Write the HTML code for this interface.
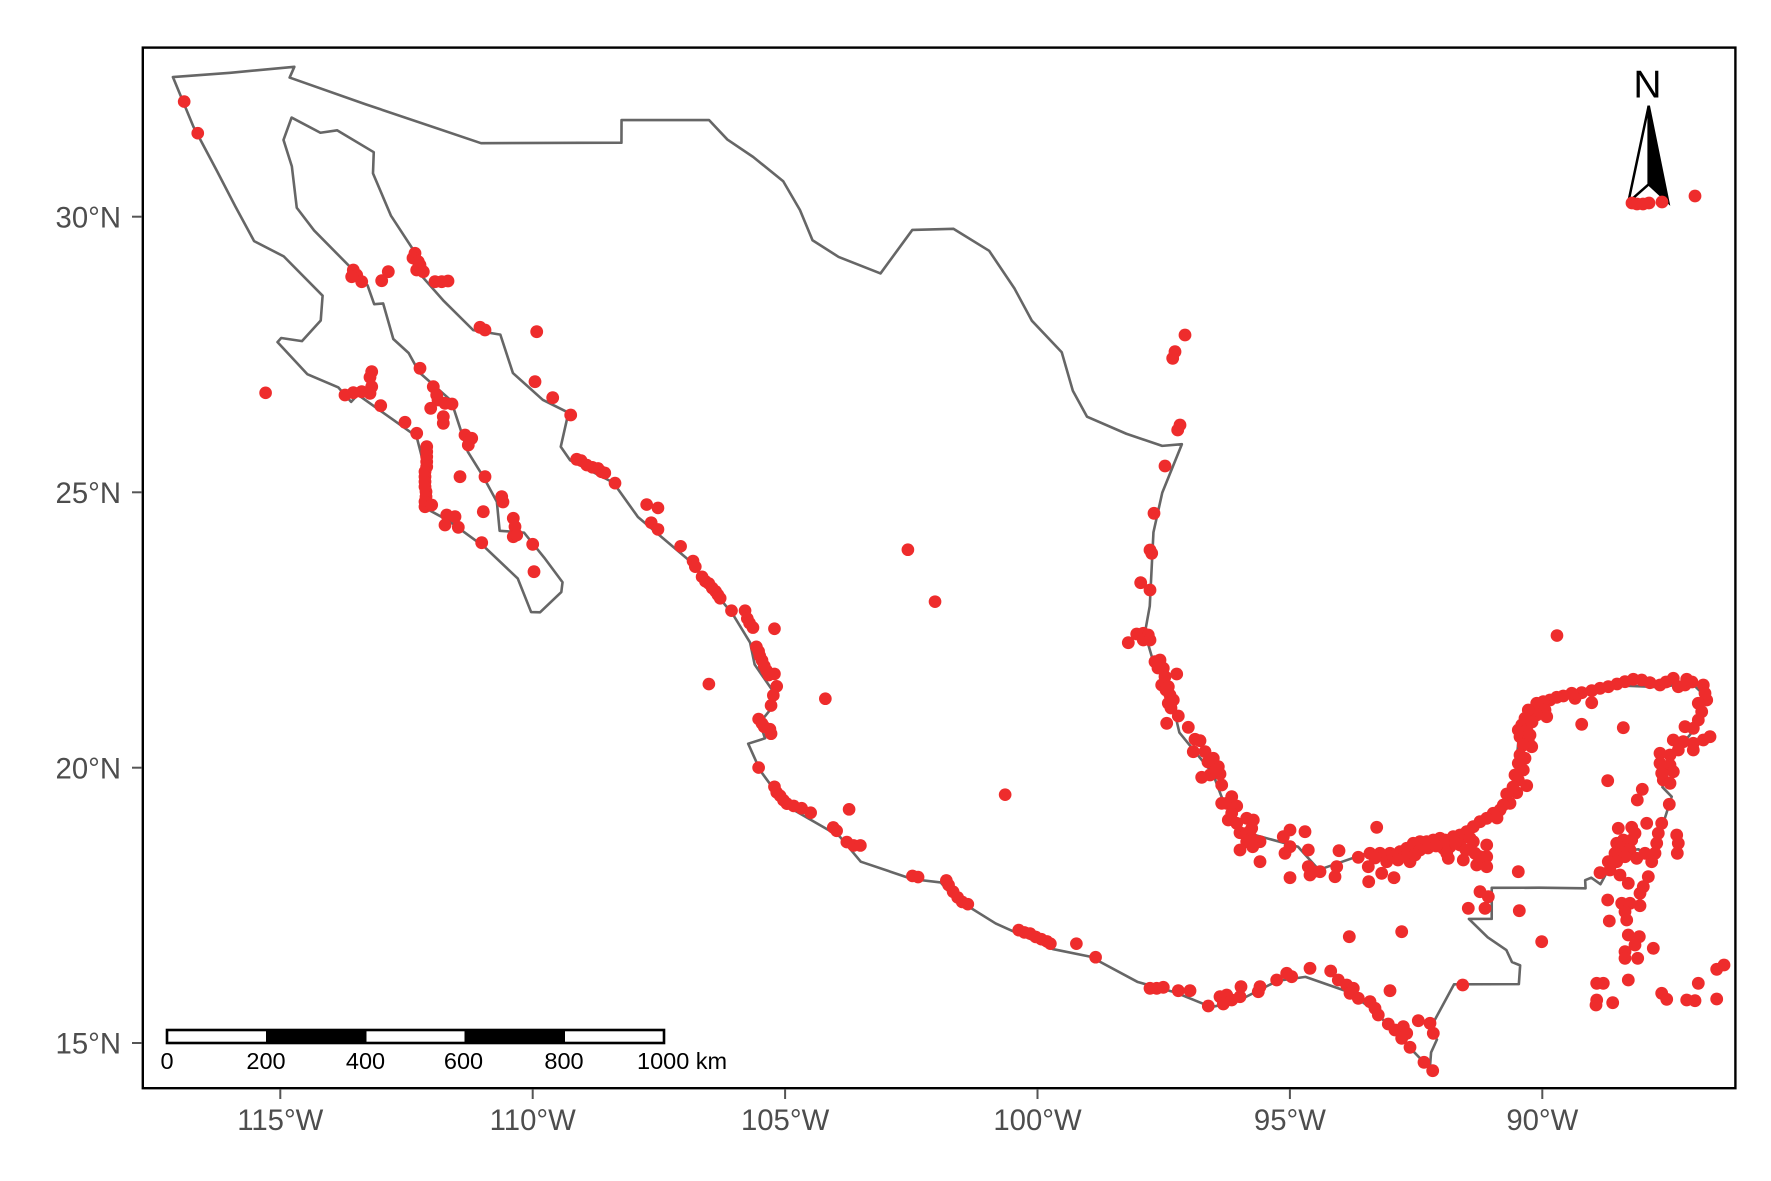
<!DOCTYPE html>
<html>
<head>
<meta charset="utf-8">
<style>
html,body{margin:0;padding:0;background:#fff;}
svg{display:block;}
text{font-family:"Liberation Sans",Arial,sans-serif;}
</style>
</head>
<body>
<svg width="1771" height="1181" viewBox="0 0 1771 1181" xmlns="http://www.w3.org/2000/svg">
<rect x="0" y="0" width="1771" height="1181" fill="#fff"/>

<!-- Mexico outline (lon,lat) -->
<g transform="matrix(50.48 0 0 -55.09 6085.5 1869.4)">
<polygon fill="none" stroke="#666666" stroke-width="2.6" stroke-linejoin="round" vector-effect="non-scaling-stroke" points="
-117.12776,32.53534 -115.99135,32.61239 -114.72139,32.72083 -114.815,32.52528 -113.30498,32.03914 -111.02361,31.33472 -109.035,31.34194 -108.24194,31.34222 -108.24,31.754854 -106.50759,31.75452 -106.1429,31.39995 -105.63159,31.08383 -105.03737,30.64402 -104.70575,30.12173 -104.45697,29.57196 -103.94,29.27 -103.11,28.97 -102.48,29.76 -101.6624,29.7793 -100.9576,29.38071 -100.45584,28.69612 -100.11,28.11 -99.52,27.54 -99.3,26.84 -99.02,26.37 -98.24,26.06 -97.53,25.84 -97.140008,25.869997 -97.528072,24.992144 -97.702946,24.272343 -97.776042,22.93258 -97.872367,22.444212 -97.699044,21.898689 -97.38896,21.411019 -97.189333,20.635433 -96.525576,19.890931 -96.292127,19.320371 -95.900885,18.828024 -94.839063,18.562717 -94.42573,18.144371 -93.548651,18.423837 -92.786114,18.524839 -92.037348,18.704569 -91.407903,18.876083 -90.77187,19.28412 -90.53359,19.867418 -90.451476,20.707522 -90.278618,20.999855 -89.601321,21.261726 -88.543866,21.493675 -87.658417,21.458846 -87.05189,21.543543 -86.811982,21.331515 -86.845908,20.849865 -87.383291,20.255405 -87.621054,19.646553 -87.43675,19.472403 -87.58656,19.04013 -87.837191,18.259816 -88.090664,18.516648 -88.300031,18.499982 -88.490123,18.486831 -88.848344,17.883198 -89.029857,18.001511 -89.150909,17.955468 -89.14308,17.808319 -90.067934,17.819326 -91.00152,17.817595 -91.002269,17.254658 -91.453921,17.252177 -91.08167,16.918477 -90.711822,16.687483 -90.600847,16.470778 -90.438867,16.41011 -90.464473,16.069562 -91.74796,16.066565 -92.229249,15.251447 -92.087216,15.064585 -92.20323,14.830103 -92.22775,14.538829 -93.359464,15.61543 -93.875169,15.940164 -94.691656,16.200975 -95.250227,16.128318 -96.053382,15.752088 -96.557434,15.653515 -97.263592,15.917065 -98.01303,16.107312 -98.947676,16.566043 -99.697397,16.706164 -100.829499,17.171071 -101.666089,17.649026 -101.918528,17.91609 -102.478132,17.975751 -103.50099,18.292295 -103.917527,18.748572 -104.99201,19.316134 -105.493038,19.946767 -105.731396,20.434102 -105.397773,20.531719 -105.500661,20.816895 -105.270752,21.076285 -105.265817,21.422104 -105.603161,21.871146 -105.693414,22.26908 -106.028716,22.773752 -106.90998,23.767774 -107.915449,24.548915 -108.401905,25.172314 -109.260199,25.580609 -109.444089,25.824884 -109.291644,26.442934 -109.801458,26.676176 -110.391732,27.162115 -110.641019,27.859876 -111.178919,27.941241 -111.759607,28.467953 -112.228235,28.954409 -112.271824,29.266844 -112.809594,30.021114 -113.163811,30.786881 -113.148669,31.170966 -113.871881,31.567608 -114.205737,31.524045 -114.776451,31.799532 -114.9367,31.393485 -114.771232,30.913617 -114.673899,30.162681 -114.330974,29.750432 -113.588875,29.061611 -113.424053,28.826174 -113.271969,28.754783 -113.140039,28.411289 -112.962298,28.42519 -112.761587,27.780217 -112.457911,27.525814 -112.244952,27.171727 -111.616489,26.662817 -111.284675,25.73259 -110.987819,25.294606 -110.710007,24.826004 -110.655049,24.298595 -110.172856,24.265548 -109.771847,23.811183 -109.409104,23.364672 -109.433392,23.185588 -109.854219,22.818272 -110.031392,22.823078 -110.295071,23.430973 -110.949501,24.000964 -111.670568,24.484423 -112.182036,24.738413 -112.148989,25.470125 -112.300711,26.012004 -112.777297,26.32196 -113.464671,26.768186 -113.59673,26.63946 -113.848937,26.900064 -114.465747,27.14209 -115.055142,27.722727 -114.982253,27.7982 -114.570366,27.741485 -114.199329,28.115003 -114.162018,28.566112 -114.93184,29.279479 -115.518654,29.556362 -115.887365,30.180794 -116.25835,30.836464 -116.721526,31.635744"/>
</g>

<!-- North arrow -->
<text x="1647.5" y="97.7" font-size="39" text-anchor="middle" fill="#000">N</text>
<polygon points="1648.7,105.7 1628.3,202.3 1648.7,184.3" fill="#fff" stroke="#000" stroke-width="2.5" stroke-linejoin="miter"/>
<polygon points="1648.7,105.7 1648.7,184.3 1668.3,202.3" fill="#000" stroke="#000" stroke-width="2.5" stroke-linejoin="miter"/>

<!-- Points (actual pixel coords) -->
<g fill="#EE2C2C">
<circle cx="1632" cy="203" r="6.4"/><circle cx="1637" cy="204" r="6.4"/><circle cx="1643" cy="204" r="6.4"/><circle cx="1649" cy="203" r="6.4"/><circle cx="1662" cy="202" r="6.4"/><circle cx="1695" cy="196" r="6.4"/>
<!-- Yucatan -->
<circle cx="1625" cy="681.7" r="6.4"/><circle cx="1633.3" cy="679.3" r="6.4"/><circle cx="1641.7" cy="680" r="6.4"/><circle cx="1650" cy="682.7" r="6.4"/><circle cx="1660" cy="685" r="6.4"/><circle cx="1673.3" cy="678.3" r="6.4"/><circle cx="1678.3" cy="686.7" r="6.4"/><circle cx="1686.7" cy="679.3" r="6.4"/><circle cx="1685" cy="685" r="6.4"/><circle cx="1617" cy="684" r="6.4"/><circle cx="1666" cy="682" r="6.4"/><circle cx="1692" cy="682" r="6.4"/>
<circle cx="1608.3" cy="686.7" r="6.4"/><circle cx="1600" cy="688.3" r="6.4"/><circle cx="1591.7" cy="690.7" r="6.4"/><circle cx="1591.7" cy="702.7" r="6.4"/><circle cx="1581.7" cy="692.7" r="6.4"/><circle cx="1575" cy="698.3" r="6.4"/><circle cx="1571.7" cy="693.3" r="6.4"/><circle cx="1563.3" cy="696" r="6.4"/><circle cx="1556.7" cy="697.3" r="6.4"/><circle cx="1550" cy="700" r="6.4"/><circle cx="1543.3" cy="701.7" r="6.4"/><circle cx="1536.7" cy="703.3" r="6.4"/><circle cx="1545" cy="710" r="6.4"/><circle cx="1546.7" cy="716.7" r="6.4"/><circle cx="1536.7" cy="715" r="6.4"/><circle cx="1528.3" cy="710" r="6.4"/><circle cx="1525" cy="718.3" r="6.4"/><circle cx="1521.7" cy="725" r="6.4"/><circle cx="1518.3" cy="730" r="6.4"/><circle cx="1526.7" cy="730" r="6.4"/><circle cx="1520" cy="736.7" r="6.4"/><circle cx="1528.3" cy="740" r="6.4"/><circle cx="1531.7" cy="746.7" r="6.4"/><circle cx="1523.3" cy="745" r="6.4"/><circle cx="1520" cy="755" r="6.4"/><circle cx="1525" cy="758.3" r="6.4"/><circle cx="1518.3" cy="763.3" r="6.4"/><circle cx="1523.3" cy="770" r="6.4"/><circle cx="1515" cy="775" r="6.4"/><circle cx="1518.3" cy="780" r="6.4"/><circle cx="1526.7" cy="785.7" r="6.4"/><circle cx="1516.7" cy="792.7" r="6.4"/><circle cx="1506.7" cy="794" r="6.4"/><circle cx="1510" cy="803.3" r="6.4"/><circle cx="1503.3" cy="805" r="6.4"/><circle cx="1500" cy="810" r="6.4"/><circle cx="1493.3" cy="813.3" r="6.4"/><circle cx="1486.7" cy="818.3" r="6.4"/><circle cx="1480" cy="821.7" r="6.4"/><circle cx="1473.3" cy="826.7" r="6.4"/><circle cx="1466.7" cy="831.7" r="6.4"/><circle cx="1460" cy="835" r="6.4"/><circle cx="1453.3" cy="836.7" r="6.4"/><circle cx="1445" cy="840" r="6.4"/><circle cx="1443.3" cy="848.3" r="6.4"/><circle cx="1450" cy="846.7" r="6.4"/><circle cx="1448.3" cy="858.3" r="6.4"/><circle cx="1460" cy="845" r="6.4"/><circle cx="1463.3" cy="860" r="6.4"/><circle cx="1473.3" cy="841.7" r="6.4"/><circle cx="1475" cy="853.3" r="6.4"/><circle cx="1476.7" cy="865" r="6.4"/><circle cx="1486.7" cy="845" r="6.4"/><circle cx="1486.7" cy="856.7" r="6.4"/><circle cx="1486.7" cy="866.7" r="6.4"/><circle cx="1480" cy="856.7" r="6.4"/><circle cx="1518.3" cy="871.7" r="6.4"/>
<circle cx="1532" cy="722" r="6.4"/><circle cx="1530" cy="735" r="6.4"/><circle cx="1513" cy="787" r="6.4"/><circle cx="1497" cy="818" r="6.4"/><circle cx="1470" cy="838" r="6.4"/><circle cx="1455" cy="843" r="6.4"/><circle cx="1466" cy="850" r="6.4"/>
<circle cx="1581.7" cy="724.3" r="6.4"/><circle cx="1623.3" cy="727.7" r="6.4"/><circle cx="1607.7" cy="780.7" r="6.4"/><circle cx="1642.3" cy="789.3" r="6.4"/><circle cx="1637.3" cy="800" r="6.4"/><circle cx="1669.3" cy="804.3" r="6.4"/>
<circle cx="1703.3" cy="685" r="6.4"/><circle cx="1705" cy="693.3" r="6.4"/><circle cx="1706.7" cy="700" r="6.4"/><circle cx="1698.3" cy="703.3" r="6.4"/><circle cx="1701.7" cy="711.7" r="6.4"/><circle cx="1698.3" cy="720" r="6.4"/><circle cx="1685" cy="726.7" r="6.4"/><circle cx="1693.3" cy="728.3" r="6.4"/><circle cx="1710" cy="736.7" r="6.4"/><circle cx="1703.3" cy="740" r="6.4"/><circle cx="1693.3" cy="743.3" r="6.4"/><circle cx="1693.3" cy="750" r="6.4"/><circle cx="1683.3" cy="741.7" r="6.4"/><circle cx="1673.3" cy="740" r="6.4"/><circle cx="1678.3" cy="750" r="6.4"/><circle cx="1670" cy="755" r="6.4"/><circle cx="1660" cy="753.3" r="6.4"/><circle cx="1660" cy="763.3" r="6.4"/><circle cx="1670" cy="765" r="6.4"/><circle cx="1673.3" cy="771.7" r="6.4"/><circle cx="1661.7" cy="773.3" r="6.4"/><circle cx="1663.3" cy="780" r="6.4"/><circle cx="1670" cy="783.3" r="6.4"/>
<circle cx="1618.3" cy="828.3" r="6.4"/><circle cx="1631.7" cy="827.3" r="6.4"/><circle cx="1646.7" cy="823.3" r="6.4"/><circle cx="1661.7" cy="823.3" r="6.4"/><circle cx="1658.3" cy="833.3" r="6.4"/><circle cx="1656.7" cy="843.3" r="6.4"/><circle cx="1655" cy="853.3" r="6.4"/><circle cx="1651.7" cy="861.7" r="6.4"/><circle cx="1635" cy="833.3" r="6.4"/><circle cx="1631.7" cy="840" r="6.4"/><circle cx="1623.3" cy="840" r="6.4"/><circle cx="1616.7" cy="843.3" r="6.4"/><circle cx="1621.7" cy="848.3" r="6.4"/><circle cx="1630" cy="850" r="6.4"/><circle cx="1615" cy="853.3" r="6.4"/><circle cx="1625" cy="856.7" r="6.4"/><circle cx="1636.7" cy="858.3" r="6.4"/><circle cx="1645" cy="853.3" r="6.4"/><circle cx="1608.3" cy="861.7" r="6.4"/><circle cx="1616.7" cy="861.7" r="6.4"/><circle cx="1610" cy="870" r="6.4"/><circle cx="1600" cy="872.7" r="6.4"/><circle cx="1620" cy="875" r="6.4"/><circle cx="1628.3" cy="883.3" r="6.4"/><circle cx="1648.3" cy="876.7" r="6.4"/><circle cx="1643.3" cy="886.7" r="6.4"/><circle cx="1640" cy="893.3" r="6.4"/><circle cx="1676.7" cy="835" r="6.4"/><circle cx="1678.3" cy="843.3" r="6.4"/><circle cx="1677.3" cy="853.3" r="6.4"/><circle cx="1607.7" cy="900" r="6.4"/><circle cx="1621.7" cy="903.3" r="6.4"/><circle cx="1630" cy="903.3" r="6.4"/><circle cx="1640" cy="905.7" r="6.4"/><circle cx="1625" cy="911.7" r="6.4"/><circle cx="1626.7" cy="920" r="6.4"/><circle cx="1609.3" cy="921" r="6.4"/><circle cx="1628.3" cy="935" r="6.4"/><circle cx="1639.3" cy="936.7" r="6.4"/><circle cx="1635" cy="945" r="6.4"/><circle cx="1625" cy="951.7" r="6.4"/><circle cx="1625" cy="958.3" r="6.4"/><circle cx="1637.7" cy="958.3" r="6.4"/><circle cx="1653.3" cy="948.3" r="6.4"/><circle cx="1541.7" cy="941.7" r="6.4"/><circle cx="1519.3" cy="910.7" r="6.4"/><circle cx="1480" cy="891.7" r="6.4"/><circle cx="1488.3" cy="896.7" r="6.4"/><circle cx="1485" cy="908.3" r="6.4"/><circle cx="1468.3" cy="908.3" r="6.4"/><circle cx="1462.7" cy="985" r="6.4"/>
<circle cx="1596.7" cy="983.3" r="6.4"/><circle cx="1603.3" cy="983.3" r="6.4"/><circle cx="1628.3" cy="980" r="6.4"/><circle cx="1596.7" cy="1000" r="6.4"/><circle cx="1596" cy="1005" r="6.4"/><circle cx="1612.7" cy="1002.7" r="6.4"/><circle cx="1661.7" cy="993.3" r="6.4"/><circle cx="1666.7" cy="999.3" r="6.4"/><circle cx="1686.7" cy="1000" r="6.4"/><circle cx="1695" cy="1000.7" r="6.4"/><circle cx="1698.3" cy="983.3" r="6.4"/><circle cx="1716.7" cy="999" r="6.4"/><circle cx="1716.7" cy="969.3" r="6.4"/><circle cx="1724" cy="965" r="6.4"/>
<!-- Baja / Gulf of California -->
<circle cx="353.3" cy="270" r="6.4"/><circle cx="356.7" cy="275" r="6.4"/><circle cx="361.7" cy="281.7" r="6.4"/><circle cx="351.7" cy="276.7" r="6.4"/><circle cx="388.3" cy="271.7" r="6.4"/><circle cx="381.7" cy="280.7" r="6.4"/><circle cx="415" cy="253.3" r="6.4"/><circle cx="413" cy="258" r="6.4"/><circle cx="418.3" cy="261.7" r="6.4"/><circle cx="420" cy="265" r="6.4"/><circle cx="416.7" cy="270" r="6.4"/><circle cx="423.3" cy="271.7" r="6.4"/><circle cx="435" cy="281.7" r="6.4"/><circle cx="441.7" cy="281.7" r="6.4"/><circle cx="448" cy="281" r="6.4"/><circle cx="480" cy="327.3" r="6.4"/><circle cx="485" cy="330" r="6.4"/><circle cx="536.7" cy="331.7" r="6.4"/><circle cx="535" cy="381.7" r="6.4"/><circle cx="552.7" cy="397.7" r="6.4"/><circle cx="570.7" cy="415" r="6.4"/><circle cx="576.7" cy="459.3" r="6.4"/><circle cx="420" cy="368.3" r="6.4"/><circle cx="371.7" cy="371.7" r="6.4"/><circle cx="370" cy="377.3" r="6.4"/><circle cx="371.7" cy="386.7" r="6.4"/><circle cx="370" cy="393.3" r="6.4"/><circle cx="361.7" cy="391.7" r="6.4"/><circle cx="353.3" cy="392.7" r="6.4"/><circle cx="345" cy="395" r="6.4"/><circle cx="380.7" cy="405.7" r="6.4"/><circle cx="433.3" cy="386.7" r="6.4"/><circle cx="436.7" cy="395" r="6.4"/><circle cx="438" cy="400" r="6.4"/><circle cx="445" cy="403.3" r="6.4"/><circle cx="452" cy="404" r="6.4"/><circle cx="430.7" cy="408.3" r="6.4"/><circle cx="443.3" cy="416.7" r="6.4"/><circle cx="443.3" cy="423.3" r="6.4"/><circle cx="405" cy="422.3" r="6.4"/><circle cx="416.7" cy="433.3" r="6.4"/><circle cx="465" cy="435" r="6.4"/><circle cx="471.7" cy="438.3" r="6.4"/><circle cx="468.3" cy="445" r="6.4"/><circle cx="426.7" cy="446.7" r="6.4"/><circle cx="426.7" cy="451.7" r="6.4"/><circle cx="426.7" cy="456.7" r="6.4"/><circle cx="426.7" cy="461.7" r="6.4"/><circle cx="426.7" cy="466.7" r="6.4"/><circle cx="425" cy="471.7" r="6.4"/><circle cx="425" cy="476.7" r="6.4"/><circle cx="425" cy="481.7" r="6.4"/><circle cx="425" cy="486.7" r="6.4"/><circle cx="426" cy="491.7" r="6.4"/><circle cx="426" cy="496.7" r="6.4"/><circle cx="425" cy="501.7" r="6.4"/><circle cx="425" cy="506.7" r="6.4"/><circle cx="431.7" cy="505" r="6.4"/><circle cx="460" cy="476.7" r="6.4"/><circle cx="485" cy="476.7" r="6.4"/><circle cx="501.7" cy="496.7" r="6.4"/><circle cx="503" cy="502" r="6.4"/><circle cx="483.3" cy="511.7" r="6.4"/><circle cx="446.7" cy="515" r="6.4"/><circle cx="455" cy="516.7" r="6.4"/><circle cx="445" cy="525" r="6.4"/><circle cx="458.3" cy="527.3" r="6.4"/><circle cx="481.7" cy="542.7" r="6.4"/><circle cx="513.3" cy="518.3" r="6.4"/><circle cx="515" cy="526.7" r="6.4"/><circle cx="513.3" cy="536.7" r="6.4"/><circle cx="516.7" cy="535" r="6.4"/><circle cx="532.7" cy="544.3" r="6.4"/><circle cx="534" cy="571.7" r="6.4"/>
<!-- Gulf coast Tamaulipas / Veracruz -->
<circle cx="1185" cy="335" r="6.4"/><circle cx="1175" cy="351.7" r="6.4"/><circle cx="1172.7" cy="358.3" r="6.4"/><circle cx="1180" cy="425" r="6.4"/><circle cx="1177.7" cy="430" r="6.4"/><circle cx="1165" cy="466" r="6.4"/><circle cx="1154" cy="513.3" r="6.4"/><circle cx="1150" cy="550" r="6.4"/><circle cx="1151.7" cy="553.3" r="6.4"/><circle cx="1140.7" cy="582.7" r="6.4"/><circle cx="1150" cy="590" r="6.4"/><circle cx="1128.3" cy="642.7" r="6.4"/><circle cx="1136.7" cy="634" r="6.4"/><circle cx="1143.3" cy="633.3" r="6.4"/><circle cx="1148.3" cy="635" r="6.4"/><circle cx="1143.3" cy="640" r="6.4"/><circle cx="1150" cy="640" r="6.4"/><circle cx="1155" cy="661.7" r="6.4"/><circle cx="1160" cy="660" r="6.4"/><circle cx="1163.3" cy="668.3" r="6.4"/><circle cx="1176.7" cy="674" r="6.4"/><circle cx="1165" cy="676.7" r="6.4"/><circle cx="1161.7" cy="685" r="6.4"/><circle cx="1168.3" cy="686.7" r="6.4"/><circle cx="1170" cy="695" r="6.4"/><circle cx="1168.3" cy="703.3" r="6.4"/><circle cx="1173.3" cy="700" r="6.4"/><circle cx="1166.7" cy="723.3" r="6.4"/><circle cx="1178.3" cy="716" r="6.4"/><circle cx="1188.3" cy="727.3" r="6.4"/><circle cx="1195" cy="739.3" r="6.4"/><circle cx="1200" cy="740.7" r="6.4"/><circle cx="1193.3" cy="751.7" r="6.4"/><circle cx="1205" cy="751.7" r="6.4"/><circle cx="1213.3" cy="758.3" r="6.4"/><circle cx="1218.3" cy="766.7" r="6.4"/><circle cx="1220" cy="774" r="6.4"/><circle cx="1210" cy="775" r="6.4"/><circle cx="1201.7" cy="777.3" r="6.4"/><circle cx="1221.7" cy="785" r="6.4"/><circle cx="1231.7" cy="796.7" r="6.4"/><circle cx="1226.7" cy="803.3" r="6.4"/><circle cx="1236.7" cy="806" r="6.4"/><circle cx="1246.7" cy="818.3" r="6.4"/><circle cx="1253.3" cy="820" r="6.4"/><circle cx="1251.7" cy="828.3" r="6.4"/><circle cx="1240" cy="832.7" r="6.4"/><circle cx="1290" cy="830" r="6.4"/><circle cx="1283.3" cy="836.7" r="6.4"/><circle cx="1260" cy="841.7" r="6.4"/><circle cx="1305" cy="831.7" r="6.4"/>
<circle cx="1158" cy="668" r="6.4"/><circle cx="1166" cy="690" r="6.4"/><circle cx="1171" cy="708" r="6.4"/><circle cx="1208" cy="762" r="6.4"/><circle cx="1216" cy="770" r="6.4"/>
<!-- Tabasco / Campeche + Oaxaca / Chiapas -->
<circle cx="1221.7" cy="803.3" r="6.4"/><circle cx="1231.7" cy="813.3" r="6.4"/><circle cx="1228.3" cy="820" r="6.4"/><circle cx="1236.7" cy="823.3" r="6.4"/><circle cx="1246.7" cy="833.3" r="6.4"/><circle cx="1251.7" cy="838.3" r="6.4"/><circle cx="1246.7" cy="841.7" r="6.4"/><circle cx="1240" cy="850" r="6.4"/><circle cx="1252.7" cy="846.7" r="6.4"/><circle cx="1260" cy="861.7" r="6.4"/><circle cx="1290" cy="846.7" r="6.4"/><circle cx="1285" cy="853.3" r="6.4"/><circle cx="1308.3" cy="850" r="6.4"/><circle cx="1290" cy="877.7" r="6.4"/><circle cx="1376.7" cy="827.3" r="6.4"/><circle cx="1339" cy="850.7" r="6.4"/><circle cx="1308.3" cy="866.7" r="6.4"/><circle cx="1313.3" cy="871.7" r="6.4"/><circle cx="1320" cy="871.7" r="6.4"/><circle cx="1310" cy="875" r="6.4"/><circle cx="1336.7" cy="866.7" r="6.4"/><circle cx="1335" cy="876.7" r="6.4"/><circle cx="1358.3" cy="857.3" r="6.4"/><circle cx="1370" cy="853.3" r="6.4"/><circle cx="1380" cy="853.3" r="6.4"/><circle cx="1390" cy="853.3" r="6.4"/><circle cx="1368.3" cy="866.7" r="6.4"/><circle cx="1386.7" cy="861.7" r="6.4"/><circle cx="1381.7" cy="873.3" r="6.4"/><circle cx="1394" cy="877.7" r="6.4"/><circle cx="1368.7" cy="881.7" r="6.4"/><circle cx="1400" cy="851.7" r="6.4"/><circle cx="1406.7" cy="848.3" r="6.4"/><circle cx="1410" cy="861.7" r="6.4"/><circle cx="1413.3" cy="843.3" r="6.4"/><circle cx="1420" cy="841.7" r="6.4"/><circle cx="1426.7" cy="841.7" r="6.4"/><circle cx="1433.3" cy="840" r="6.4"/><circle cx="1440" cy="838.3" r="6.4"/><circle cx="1443.3" cy="843.3" r="6.4"/><circle cx="1446.7" cy="853.3" r="6.4"/><circle cx="1406.7" cy="855" r="6.4"/><circle cx="1420" cy="850" r="6.4"/><circle cx="1393.3" cy="856.7" r="6.4"/>
<circle cx="1375" cy="858" r="6.4"/><circle cx="1398" cy="860" r="6.4"/><circle cx="1428" cy="848" r="6.4"/><circle cx="1436" cy="846" r="6.4"/><circle cx="1415" cy="855" r="6.4"/>
<circle cx="1349.3" cy="936.7" r="6.4"/><circle cx="1401.7" cy="931.7" r="6.4"/>
<circle cx="1150" cy="988.3" r="6.4"/><circle cx="1156.7" cy="988.3" r="6.4"/><circle cx="1163.3" cy="987.3" r="6.4"/><circle cx="1178.3" cy="990.7" r="6.4"/><circle cx="1190" cy="990.7" r="6.4"/><circle cx="1208.3" cy="1006" r="6.4"/><circle cx="1220" cy="996.7" r="6.4"/><circle cx="1226.7" cy="995" r="6.4"/><circle cx="1223.3" cy="1004" r="6.4"/><circle cx="1231.7" cy="1000" r="6.4"/><circle cx="1240" cy="996.7" r="6.4"/><circle cx="1241" cy="986.7" r="6.4"/><circle cx="1260" cy="986.7" r="6.4"/><circle cx="1258.3" cy="991.7" r="6.4"/><circle cx="1276.7" cy="980" r="6.4"/><circle cx="1286.7" cy="973.3" r="6.4"/><circle cx="1291.7" cy="976.7" r="6.4"/><circle cx="1310" cy="968.3" r="6.4"/><circle cx="1330.7" cy="971" r="6.4"/><circle cx="1338.3" cy="980" r="6.4"/><circle cx="1346.7" cy="985" r="6.4"/><circle cx="1353.3" cy="988.3" r="6.4"/><circle cx="1350" cy="993.3" r="6.4"/><circle cx="1358.3" cy="998.3" r="6.4"/><circle cx="1370" cy="1001.7" r="6.4"/><circle cx="1375" cy="1008.3" r="6.4"/><circle cx="1378.3" cy="1015" r="6.4"/><circle cx="1390" cy="990.7" r="6.4"/><circle cx="1388.3" cy="1024" r="6.4"/><circle cx="1395" cy="1030" r="6.4"/><circle cx="1403.3" cy="1026.7" r="6.4"/><circle cx="1406.7" cy="1033.3" r="6.4"/><circle cx="1401.7" cy="1038.3" r="6.4"/><circle cx="1410" cy="1047.3" r="6.4"/><circle cx="1418.3" cy="1020.7" r="6.4"/><circle cx="1430" cy="1023.3" r="6.4"/><circle cx="1433.3" cy="1033.3" r="6.4"/><circle cx="1424" cy="1062.3" r="6.4"/><circle cx="1432.7" cy="1070.7" r="6.4"/>
</g>

<!-- Points (estimated from overview, scaled) -->
<g fill="#EE2C2C" transform="matrix(1.1308 0 0 1.1288 -1.27 0)">
<circle cx="164" cy="90" r="5.6"/><circle cx="176" cy="118" r="5.6"/><circle cx="236" cy="348" r="5.6"/>
<circle cx="515" cy="408" r="5.6"/><circle cx="520" cy="412" r="5.6"/><circle cx="525" cy="414" r="5.6"/><circle cx="530" cy="415" r="5.6"/><circle cx="533" cy="418" r="5.6"/><circle cx="536" cy="419" r="5.6"/><circle cx="545" cy="428" r="5.6"/>
<circle cx="573" cy="447" r="5.6"/><circle cx="583" cy="450" r="5.6"/><circle cx="577" cy="463" r="5.6"/><circle cx="583" cy="469" r="5.6"/>
<circle cx="603" cy="484" r="5.6"/><circle cx="614" cy="497" r="5.6"/><circle cx="616" cy="502" r="5.6"/>
<circle cx="622" cy="511" r="5.6"/><circle cx="625" cy="515" r="5.6"/><circle cx="628" cy="517" r="5.6"/><circle cx="631" cy="521" r="5.6"/><circle cx="634" cy="524" r="5.6"/><circle cx="636" cy="527" r="5.6"/><circle cx="638" cy="530" r="5.6"/>
<circle cx="648" cy="541" r="5.6"/><circle cx="660" cy="541" r="5.6"/><circle cx="662" cy="548" r="5.6"/><circle cx="664" cy="552" r="5.6"/><circle cx="667" cy="556" r="5.6"/><circle cx="686" cy="557" r="5.6"/>
<circle cx="670" cy="573" r="5.6"/><circle cx="672" cy="577" r="5.6"/><circle cx="673" cy="581" r="5.6"/><circle cx="675" cy="585" r="5.6"/><circle cx="677" cy="590" r="5.6"/><circle cx="679" cy="594" r="5.6"/><circle cx="681" cy="598" r="5.6"/><circle cx="686" cy="597" r="5.6"/><circle cx="688" cy="608" r="5.6"/><circle cx="685" cy="616" r="5.6"/><circle cx="683" cy="625" r="5.6"/>
<circle cx="628" cy="606" r="5.6"/><circle cx="731" cy="619" r="5.6"/>
<circle cx="672" cy="637" r="5.6"/><circle cx="675" cy="641" r="5.6"/><circle cx="677" cy="644" r="5.6"/><circle cx="682" cy="646" r="5.6"/><circle cx="683" cy="650" r="5.6"/>
<circle cx="672" cy="680" r="5.6"/>
<circle cx="686" cy="697" r="5.6"/><circle cx="688" cy="702" r="5.6"/><circle cx="691" cy="705" r="5.6"/><circle cx="694" cy="709" r="5.6"/><circle cx="697" cy="712" r="5.6"/><circle cx="703" cy="714" r="5.6"/><circle cx="710" cy="716" r="5.6"/><circle cx="718" cy="720" r="5.6"/>
<circle cx="752" cy="717" r="5.6"/>
<circle cx="738" cy="733" r="5.6"/><circle cx="741" cy="736" r="5.6"/><circle cx="750" cy="746" r="5.6"/><circle cx="756" cy="749" r="5.6"/><circle cx="762" cy="749" r="5.6"/>
<circle cx="808" cy="776" r="5.6"/><circle cx="813" cy="777" r="5.6"/>
<circle cx="838" cy="780" r="5.6"/><circle cx="840" cy="784" r="5.6"/><circle cx="844" cy="790" r="5.6"/><circle cx="848" cy="795" r="5.6"/><circle cx="852" cy="799" r="5.6"/><circle cx="857" cy="801" r="5.6"/>
<circle cx="902" cy="824" r="5.6"/><circle cx="907" cy="826" r="5.6"/><circle cx="912" cy="827" r="5.6"/><circle cx="917" cy="830" r="5.6"/><circle cx="922" cy="832" r="5.6"/><circle cx="927" cy="834" r="5.6"/><circle cx="930" cy="836" r="5.6"/>
<circle cx="953" cy="836" r="5.6"/><circle cx="970" cy="848" r="5.6"/>
<circle cx="804" cy="487" r="5.6"/><circle cx="828" cy="533" r="5.6"/><circle cx="890" cy="704" r="5.6"/><circle cx="1378" cy="563" r="5.6"/>
</g>

<!-- Scale bar -->
<rect x="167" y="1030" width="497" height="13" fill="#fff" stroke="#000" stroke-width="2.6"/>
<rect x="266" y="1030" width="100.5" height="13" fill="#000"/>
<rect x="464.5" y="1030" width="100.5" height="13" fill="#000"/>
<g font-size="23.5" fill="#000" text-anchor="middle">
<text x="167" y="1069">0</text>
<text x="266" y="1069">200</text>
<text x="365.5" y="1069">400</text>
<text x="463.5" y="1069">600</text>
<text x="564" y="1069">800</text>
<text x="637" y="1069" text-anchor="start">1000 km</text>
</g>

<!-- Panel border -->
<rect x="142.8" y="47.6" width="1592.6" height="1040.6" fill="none" stroke="#000" stroke-width="2.4"/>

<!-- Ticks -->
<g stroke="#555" stroke-width="2">
<line x1="132" y1="216.7" x2="142" y2="216.7"/>
<line x1="132" y1="492.3" x2="142" y2="492.3"/>
<line x1="132" y1="767.7" x2="142" y2="767.7"/>
<line x1="132" y1="1043" x2="142" y2="1043"/>
<line x1="280.3" y1="1089" x2="280.3" y2="1099"/>
<line x1="532.7" y1="1089" x2="532.7" y2="1099"/>
<line x1="785.1" y1="1089" x2="785.1" y2="1099"/>
<line x1="1037.5" y1="1089" x2="1037.5" y2="1099"/>
<line x1="1289.9" y1="1089" x2="1289.9" y2="1099"/>
<line x1="1542.3" y1="1089" x2="1542.3" y2="1099"/>
</g>

<!-- Axis labels -->
<g font-size="29.3" fill="#4D4D4D">
<text x="121" y="227.4" text-anchor="end">30°N</text>
<text x="121" y="503" text-anchor="end">25°N</text>
<text x="121" y="778.4" text-anchor="end">20°N</text>
<text x="121" y="1053.7" text-anchor="end">15°N</text>
<text x="280.3" y="1130" text-anchor="middle">115°W</text>
<text x="532.7" y="1130" text-anchor="middle">110°W</text>
<text x="785.1" y="1130" text-anchor="middle">105°W</text>
<text x="1037.5" y="1130" text-anchor="middle">100°W</text>
<text x="1289.9" y="1130" text-anchor="middle">95°W</text>
<text x="1542.3" y="1130" text-anchor="middle">90°W</text>
</g>
</svg>
</body>
</html>
